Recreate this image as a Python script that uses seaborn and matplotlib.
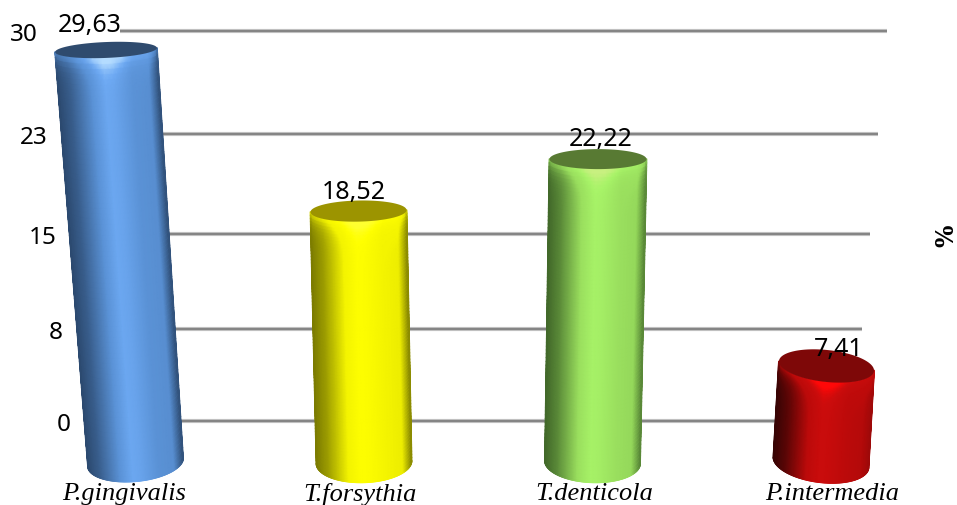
import numpy as np
import pandas as pd
import seaborn as sns
import matplotlib
matplotlib.use("Agg")
import matplotlib.pyplot as plt
from matplotlib.colors import LinearSegmentedColormap, Normalize
from matplotlib.collections import LineCollection
from matplotlib.font_manager import FontProperties

# ---- data ----
categories = ["P.gingivalis", "T.forsythia", "T.denticola", "P.intermedia"]
values = [29.63, 18.52, 22.22, 7.41]
value_labels = ["29,63", "18,52", "22,22", "7,41"]
wall_ticks = [0, 7.08, 14.42, 22.08, 30]
wall_tick_labels = ["0", "8", "15", "23", "30"]

# ---- style ----
W, H = 957, 506
sns.set_theme(style="white")
plt.rcParams["font.family"] = ["Noto Sans", "DejaVu Sans"]
PX_X, PX_Y = 228.5, 13.7      # pixels per category / per value on the front plane
X0, Y0 = 135.5, 463           # pixel of first category base
wall_k, wall_y0 = 13.0, 422   # back-wall scale
palettes = [
    ["#2c4a70", "#5a92d6", "#6eaaf4", "#b4dcff"],
    ["#7c7c00", "#f4f400", "#ffff00", "#ffff30"],
    ["#42692a", "#9adf5e", "#a8f468", "#c8f080"],
    ["#380404", "#bc0a0a", "#cc0c0c", "#ff0808"],
]
top_colors = ["#2f4b6e", "#9c9400", "#587a33", "#7e0808"]
persp = [1.015, 0.989, 0.995, 0.946]
lean = [-0.129, -0.024, 0.024, 0.024]
top_scale = [1.07, 1.01, 1.02, 1.0]
ry_bottom = [1.40, 1.48, 1.48, 1.48]
ry_top = [0.58, 0.77, 0.73, 1.17]
tilt_bottom = [0.29, 0.10, -0.10, -0.36]
tilt_top = [0.15, 0.07, 0.0, -0.33]
right_edge = [0.05, 0.05, 0.10, 0.28]
label_offsets = [(-16, 25), (-5, 20), (3, 21), (12, 17)]
tick_shift = [-0.048, -0.017, 0.009, 0.048]
grid_end = [855, 862, 870, 878, 887]
wall_label_right = [71, 63, 57, 48, 38]
bar_width = 0.416

fig = plt.figure(figsize=(W / 100, H / 100), dpi=100)
fig.patch.set_facecolor("white")

# back wall: gridlines and value axis
wall = fig.add_axes([0, 0, 1, 1], zorder=0)
wall.set_xlim(0, W)
wall.set_ylim((wall_y0 - H) / wall_k, wall_y0 / wall_k)
wall.hlines(wall_ticks, 120, grid_end, color="#c8c8c8", lw=3.0)
wall.hlines(wall_ticks, 120, grid_end, color="#858585", lw=1.6)
wall.set_xticks([])
wall.set_yticks(wall_ticks, labels=wall_tick_labels)
wall.tick_params(axis="y", length=0, pad=0, labelsize=17.5, labelcolor="black")
for t, r in zip(wall.yaxis.get_major_ticks(), wall_label_right):
    t.label1.set_x(r / W)
sns.despine(ax=wall, left=True, bottom=True)

# front plane: bars
ax = fig.add_axes([0, 0, 1, 1], zorder=1)
ax.patch.set_alpha(0)
positions = list(range(len(categories)))
df = pd.DataFrame({"pos": positions, "species": categories, "pct": values})
sns.barplot(data=df, x="pos", y="pct", hue="species", legend=False, native_scale=True,
            palette=[p[1] for p in palettes], width=bar_width, ax=ax)
ax.set_xlim(-X0 / PX_X, (W - X0) / PX_X)
ax.set_ylim((Y0 - H) / PX_Y, Y0 / PX_Y)
ax.autoscale(False)

theta = np.linspace(-np.pi / 2, np.pi / 2, 121)
sn, cs = np.sin(theta), np.cos(theta)
s = np.linspace(0, 1, 80)[:, None]

for i, patch in enumerate(ax.patches[:4]):
    val = patch.get_height()
    cx = patch.get_x() + patch.get_width() / 2
    half = patch.get_width() / 2
    patch.set_alpha(0)
    top_y = val * persp[i]
    top_x = cx + lean[i]
    # surface of the cylinder
    xc = cx + (top_x - cx) * s
    rx = half * (1 + (top_scale[i] - 1) * s)
    yb = -ry_bottom[i] * cs + tilt_bottom[i] * sn
    yt = top_y - ry_top[i] * cs + tilt_top[i] * sn
    X = xc + rx * sn[None, :]
    Y = yb[None, :] * (1 - s) + yt[None, :] * s
    # shading: dark at the edges, highlight left of centre, bright rim at the top
    prof = np.interp(sn, [-1, -0.75, -0.35, -0.05, 0.12, 0.5, 0.82, 1],
                     [0.0, 0.10, 0.34, 0.62, 0.58, 0.36, 0.34, right_edge[i]])
    height_px = top_y * PX_Y
    dist = (1 - s) * height_px
    rim = np.exp(-dist / 8.0) * (0.55 * np.exp(-(sn[None, :] / 0.35) ** 2) + 0.25)
    C = np.clip(prof[None, :] + rim, 0, 1)
    cmap = LinearSegmentedColormap.from_list(
        f"c{i}", [(0, palettes[i][0]), (0.36, palettes[i][1]),
                  (0.66, palettes[i][2]), (1, palettes[i][3])])
    ax.pcolormesh(X, Y, C, cmap=cmap, vmin=0, vmax=1, shading="gouraud", zorder=3)
    # antialiased outline over the mesh edge
    bx = np.r_[X[::-1, 0], X[0, :], X[:, -1]]
    by = np.r_[Y[::-1, 0], Y[0, :], Y[:, -1]]
    bc = np.r_[C[::-1, 0], C[0, :], C[:, -1]]
    pts = np.column_stack([bx, by])
    segs = np.stack([pts[:-1], pts[1:]], axis=1)
    ax.add_collection(LineCollection(segs, array=bc[:-1], cmap=cmap, norm=Normalize(0, 1),
                                     linewidths=1.3, zorder=3.5, capstyle="round"),
                      autolim=False)
    # top cap
    tt = np.linspace(0, 2 * np.pi, 200)
    ax.fill(top_x + half * top_scale[i] * np.sin(tt),
            top_y - ry_top[i] * np.cos(tt) + tilt_top[i] * np.sin(tt),
            color=top_colors[i], lw=0, zorder=4)
    dx, dy = label_offsets[i]
    ax.annotate(value_labels[i], (top_x, top_y), xytext=(dx * 0.72, dy * 0.72),
                textcoords="offset points", ha="center", va="center",
                fontsize=18, color="black", zorder=6)

# category labels
ax.set_xticks([j + d for j, d in enumerate(tick_shift)], labels=categories)
ax.tick_params(axis="x", length=0, pad=-16.5, labelsize=19, labelcolor="black")
for lab in ax.get_xticklabels():
    lab.set_fontfamily("Liberation Serif")
    lab.set_fontstyle("italic")
    lab.set_va("top")
ax.set_xlabel("")
ax.set_yticks([])
ax.set_ylabel("%", color="black", rotation=90)
ylab = ax.yaxis.label
ylab.set_fontproperties(FontProperties(family="DejaVu Serif", weight="bold", size=17))
ylab.set_va("center")
ylab.set_ha("center")
ax.yaxis.set_label_coords(946 / W, 1 - 236 / H)
sns.despine(ax=ax, left=True, bottom=True)

fig.savefig("out.png", dpi=100)
